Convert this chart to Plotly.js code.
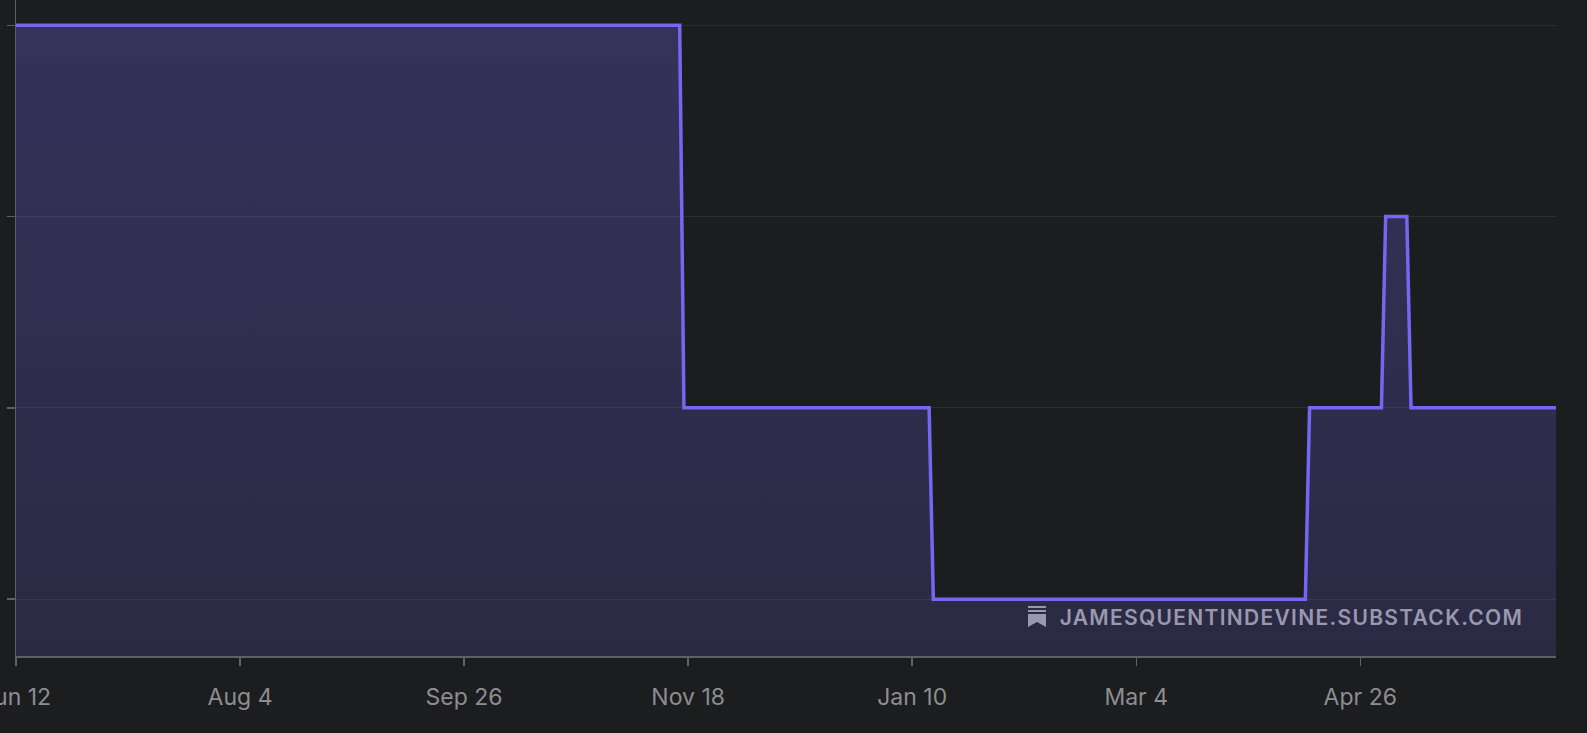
<!DOCTYPE html>
<html>
<head>
<meta charset="utf-8">
<script src="https://cdn.plot.ly/plotly-3.0.1.min.js"></script>
<style>
  html, body { margin: 0; padding: 0; background: #1c1d1f; }
  #chart { width: 1587px; height: 733px; }
</style>
</head>
<body>
<div id="chart"></div>
<script>
// change points of the step series (daily data, value held between points)
var dates = ['2024-06-12', '2024-11-16', '2024-11-17', '2025-01-14', '2025-01-15',
             '2025-04-13', '2025-04-14', '2025-05-01', '2025-05-02', '2025-05-07',
             '2025-05-08', '2025-06-12'];
var values = [4, 4, 2, 2, 1, 1, 2, 2, 3, 3, 2, 2];

var yLevels = [1, 2, 3, 4];
var xRange = ['2024-06-12', '2025-06-11 07:00'];
var yRange = [0.703, 4.132];

var lineColor = '#7467f2';
var axisColor = '#5e5e65';
var labelColor = '#8d8d92';
var markColor = '#9a98ae';

var trace = {
  x: dates,
  y: values,
  type: 'scatter',
  mode: 'lines',
  line: { color: lineColor, width: 3.5 },
  fill: 'tozeroy',
  fillgradient: {
    type: 'vertical',
    start: yRange[0],
    stop: yRange[1],
    colorscale: [
      [0, 'rgba(116,103,242,0.17)'],
      [1, 'rgba(116,103,242,0.29)']
    ]
  },
  hoverinfo: 'skip'
};

// substack mark next to the watermark, in pixels from its lower-left corner
var iconX = (1028 - 16) / 1540;
var iconY = (656 - 627) / 656;
function iconShape(path) {
  return {
    type: 'path', xref: 'paper', yref: 'paper',
    xsizemode: 'pixel', ysizemode: 'pixel',
    xanchor: iconX, yanchor: iconY,
    path: path,
    fillcolor: markColor, line: { width: 0 }
  };
}

var layout = {
  width: 1587,
  height: 733,
  margin: { l: 16, r: 31, t: 0, b: 77 },
  paper_bgcolor: '#1c1d1f',
  plot_bgcolor: '#1c1d1f',
  showlegend: false,
  font: { family: 'Inter, "Noto Sans", sans-serif', color: labelColor },
  xaxis: {
    type: 'date',
    range: xRange,
    tick0: '2024-06-12',
    dtick: 53 * 86400000,
    tickformat: '%b %-d',
    showgrid: false,
    zeroline: false,
    showline: true,
    linecolor: axisColor,
    linewidth: 1.5,
    ticks: 'outside',
    ticklen: 8,
    tickwidth: 1.5,
    tickcolor: axisColor,
    tickfont: { size: 23, color: labelColor },
    ticklabelstandoff: 12,
    ticklabeloverflow: 'allow',
    automargin: false
  },
  yaxis: {
    range: yRange,
    tickvals: yLevels,
    showticklabels: false,
    showgrid: true,
    gridcolor: '#2c2d33',
    gridwidth: 1.2,
    zeroline: false,
    showline: true,
    linecolor: axisColor,
    linewidth: 1.5,
    ticks: 'outside',
    ticklen: 8,
    tickwidth: 1.5,
    tickcolor: axisColor,
    automargin: false
  },
  annotations: [{
    xref: 'paper', yref: 'paper',
    x: (1524.5 - 16) / 1540, y: (656 - 617.5) / 656,
    xanchor: 'right', yanchor: 'middle',
    text: 'JAMESQUENTINDEVINE.SUBSTACK.COM',
    showarrow: false,
    font: { size: 21, color: markColor, family: 'Inter, sans-serif', weight: 600 }
  }],
  shapes: [
    iconShape('M0,19 H18 V21 H0 Z'),
    iconShape('M0,15 H18 V17 H0 Z'),
    iconShape('M0,13 H18 V0 L9,5 L0,0 Z')
  ]
};

Plotly.newPlot('chart', [trace], layout, { displayModeBar: false, staticPlot: true }).then(function (gd) {
  // the watermark is tracked out; keep its right edge where it was
  var t = gd.querySelector('.annotation-text');
  if (!t) return;
  var before = t.getBoundingClientRect().right;
  t.style.letterSpacing = '1.3px';
  var after = t.getBoundingClientRect().right;
  var x = parseFloat(t.getAttribute('x')) || 0;
  t.setAttribute('x', x - (after - before));
});
</script>
</body>
</html>
